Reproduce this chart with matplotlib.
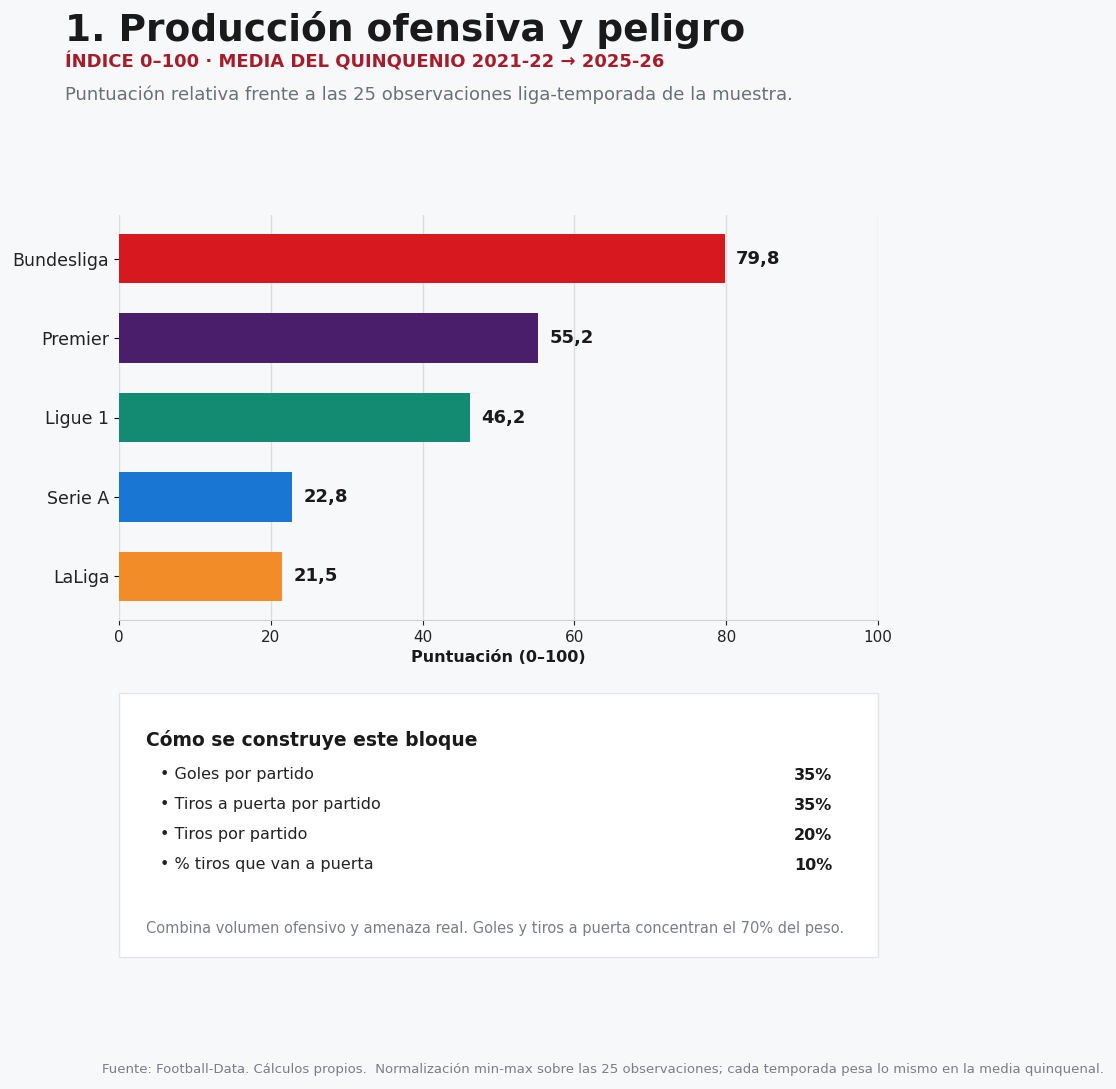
import matplotlib.pyplot as plt
from matplotlib.patches import Rectangle

leagues = ["Bundesliga", "Premier", "Ligue 1", "Serie A", "LaLiga"]
scores = [79.8, 55.2, 46.2, 22.8, 21.5]
colors = ["#d7191f", "#4a1e6a", "#138a72", "#1976d2", "#f28c28"]
components = ["Goles por partido", "Tiros a puerta por partido",
              "Tiros por partido", "% tiros que van a puerta"]
weights = ["35%", "35%", "20%", "10%"]

BG = "#f7f8fa"
plt.rcParams["font.family"] = "DejaVu Sans"

W, H = 1116, 1089
fig = plt.figure(figsize=(W / 100, H / 100), dpi=100, facecolor=BG)

def fx(px): return px / W
def fy(py): return 1 - py / H

fig.text(fx(65), fy(30), "1. Producción ofensiva y peligro", fontsize=27,
         fontweight="bold", color="#1a1a1a", va="center")
fig.text(fx(65), fy(62), "ÍNDICE 0–100 · MEDIA DEL QUINQUENIO 2021-22 → 2025-26",
         fontsize=13, fontweight="bold", color="#a51c2a", va="center")
fig.text(fx(65), fy(95), "Puntuación relativa frente a las 25 observaciones liga-temporada de la muestra.",
         fontsize=13, color="#6b6f76", va="center")

ax = fig.add_axes([fx(119), fy(620), fx(878) - fx(119), (620 - 215) / H])
ax.set_facecolor(BG)
y = list(range(len(leagues)))[::-1]
ax.barh(y, scores, height=0.62, color=colors, zorder=3)
for yi, s in zip(y, scores):
    ax.text(s + 1.5, yi, f"{s:.1f}".replace(".", ","), va="center",
            fontsize=13, fontweight="bold", color="#1a1a1a")
ax.set_yticks(y)
ax.set_yticklabels(leagues, fontsize=12.5, color="#222")
ax.set_xlim(0, 100)
ax.set_ylim(-0.55, 4.55)
ax.set_xticks(range(0, 101, 20))
ax.tick_params(axis="x", labelsize=11, colors="#222")
ax.grid(axis="x", color="#dcdde0", lw=1, zorder=0)
for sp in ["top", "right", "left"]:
    ax.spines[sp].set_visible(False)
ax.spines["bottom"].set_color("#cfd1d5")
ax.set_xlabel("Puntuación (0–100)", fontsize=11.5, fontweight="bold", color="#1a1a1a")

box = Rectangle((fx(119), fy(957)), fx(878) - fx(119), (957 - 693) / H,
                transform=fig.transFigure, facecolor="white", edgecolor="#e3e4e7", lw=1)
fig.add_artist(box)
fig.text(fx(146), fy(740), "Cómo se construye este bloque", fontsize=13.5,
         fontweight="bold", color="#1a1a1a", va="center")
for i, (c, w) in enumerate(zip(components, weights)):
    yy = fy(775 + 30 * i)
    fig.text(fx(160), yy, "• " + c, fontsize=11.5, color="#222", va="center")
    fig.text(fx(832), yy, w, fontsize=11.5, fontweight="bold", color="#1a1a1a",
             va="center", ha="right")
fig.text(fx(146), fy(928), "Combina volumen ofensivo y amenaza real. Goles y tiros a puerta concentran el 70% del peso.",
         fontsize=10.5, color="#7a7d83", va="center")

fig.text(fx(1104), fy(1069), "Fuente: Football-Data. Cálculos propios.  Normalización min-max sobre las 25 observaciones; cada temporada pesa lo mismo en la media quinquenal.",
         fontsize=9.5, color="#7a7d83", va="center", ha="right")

fig.savefig("out.png", dpi=100, facecolor=BG)
